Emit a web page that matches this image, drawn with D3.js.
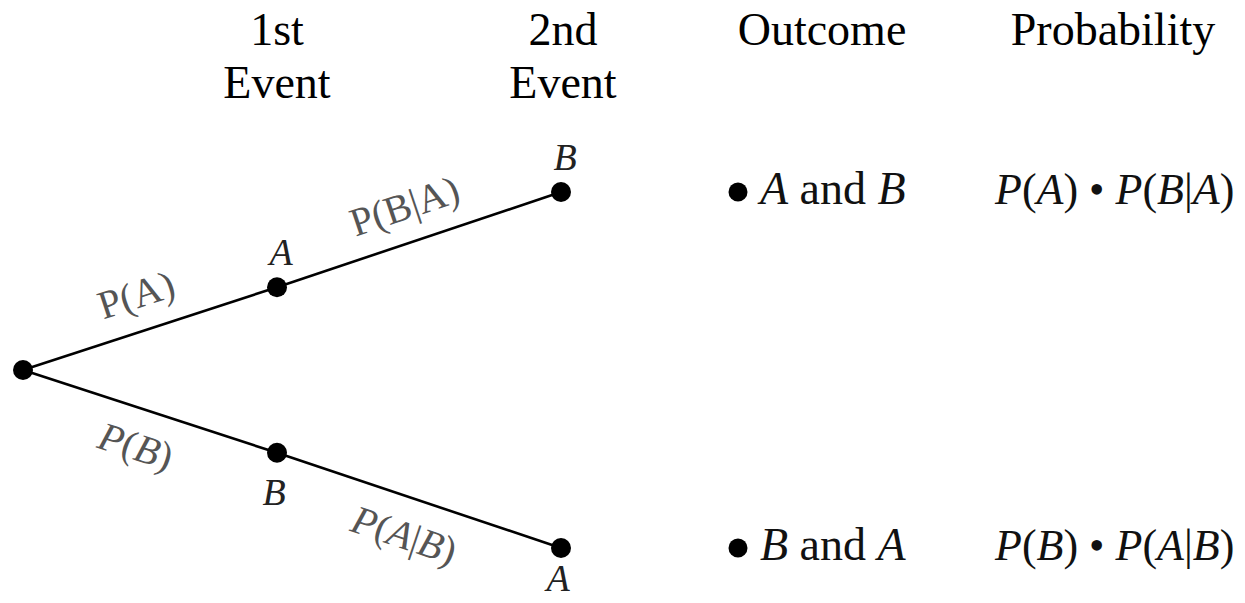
<!DOCTYPE html>
<html><head><meta charset="utf-8">
<script src="https://cdn.jsdelivr.net/npm/d3@7/dist/d3.min.js"></script>
<style>html,body{margin:0;padding:0;background:#fff;}svg{display:block;}</style>
</head><body><svg id="c" width="1245" height="603"></svg>
<script>
// ---- data ----
const columns = ["Start", "1st Event", "2nd Event", "Outcome", "Probability"];
const headings = [["1st", "Event"], ["2nd", "Event"], ["Outcome"], ["Probability"]];
const headingColumns = ["1st Event", "2nd Event", "Outcome", "Probability"];
// nodes: id, column, vertical branch value, label
const nodeIds = ["root", "A1", "B2", "B1", "A2"];
const nodeColumns = ["Start", "1st Event", "2nd Event", "1st Event", "2nd Event"];
const nodeBranch = [0, 0.93, 2, -0.93, -2];
const nodeLabels = ["", "A", "B", "B", "A"];
const edgeFrom = ["root", "A1", "root", "B1"];
const edgeTo = ["A1", "B2", "B1", "A2"];
const edgeLabels = ["P(A)", "P(B|A)", "P(B)", "P(A|B)"];
const outcomeNodes = ["B2", "A2"];
const outcomeTexts = [[["A", true], [" and ", false], ["B", true]], [["B", true], [" and ", false], ["A", true]]];
const probTexts = [
  [["P", true], ["(", false], ["A", true], [") \u2022 ", false], ["P", true], ["(", false], ["B", true], ["|", false], ["A", true], [")", false]],
  [["P", true], ["(", false], ["B", true], [") \u2022 ", false], ["P", true], ["(", false], ["A", true], ["|", false], ["B", true], [")", false]]
];

// ---- scales ----
const x = d3.scaleOrdinal(columns, [23, 277, 561, 738, 995]);
const headX = d3.scaleOrdinal(headingColumns, [277, 563, 822, 1113]);
const y = d3.scaleLinear([-2, 2], [548, 192]);
const svg = d3.select("#c");
const FONT = '"Liberation Serif"';

const nodes = nodeIds.map((id, i) => ({id, col: nodeColumns[i], v: nodeBranch[i], label: nodeLabels[i]}));
const byId = new Map(nodes.map(n => [n.id, n]));
nodes.forEach(n => { n.x = x(n.col); n.y = y(n.v); });
const edges = edgeFrom.map((f, i) => ({s: byId.get(f), t: byId.get(edgeTo[i]), label: edgeLabels[i], up: i < 2}));

function txt(sel) { return sel.append("text").style("font-family", FONT); }

// headings
headings.forEach((lines, i) => {
  const t = txt(svg).attr("text-anchor", "middle").attr("font-size", 46).attr("fill", "#000");
  lines.forEach((l, j) => t.append("tspan").attr("x", headX(headingColumns[i])).attr("y", 45 + j * 53).text(l));
});

// edges
svg.selectAll("line.edge").data(edges).join("line").attr("class", "edge")
  .attr("x1", d => d.s.x).attr("y1", d => d.s.y).attr("x2", d => d.t.x).attr("y2", d => d.t.y)
  .attr("stroke", "#000").attr("stroke-width", 2.6);

// edge labels
edges.forEach(e => {
  const dx = e.t.x - e.s.x, dy = e.t.y - e.s.y, L = Math.hypot(dx, dy);
  const ux = dx / L, uy = dy / L;
  let nx = -uy, ny = ux;
  if (e.up ? ny > 0 : ny < 0) { nx = -nx; ny = -ny; }
  const off = 37;
  const cx = e.s.x + dx * 0.49 + nx * off, cy = e.s.y + dy * 0.49 + ny * off;
  const ang = Math.atan2(dy, dx) * 180 / Math.PI;
  const t = txt(svg).attr("transform", `translate(${cx},${cy}) rotate(${ang})`)
    .attr("text-anchor", "middle").attr("dominant-baseline", "central")
    .attr("font-size", 40).attr("fill", "#555");
  const parts = e.label.match(/[A-Z]|[^A-Z]+/g);
  parts.forEach(p => t.append("tspan").attr("font-style", (!e.up && /[A-Z]/.test(p)) ? "italic" : "normal").text(p));
});

// nodes
svg.selectAll("circle.node").data(nodes).join("circle").attr("class", "node")
  .attr("cx", d => d.x).attr("cy", d => d.y).attr("r", 10).attr("fill", "#000");

// node labels
nodes.filter(n => n.label).forEach(n => {
  const above = n.v > 0;
  txt(svg).attr("x", n.x + (above ? 4 : -3)).attr("y", above ? n.y - 22 : Math.min(n.y + 52, 591))
    .attr("text-anchor", "middle").attr("font-style", "italic")
    .attr("font-size", 38).attr("fill", "#222").text(n.label);
});

// outcomes
outcomeNodes.forEach((id, i) => {
  const n = byId.get(id);
  svg.append("circle").attr("cx", x("Outcome")).attr("cy", n.y).attr("r", 9.5).attr("fill", "#000");
  const t = txt(svg).attr("x", x("Outcome") + 22).attr("y", n.y + 12)
    .attr("font-size", 46).attr("fill", "#111");
  outcomeTexts[i].forEach(p => t.append("tspan").attr("font-style", p[1] ? "italic" : "normal").text(p[0]));
  const pt = txt(svg).attr("x", x("Probability")).attr("y", n.y + 12)
    .attr("font-size", 44).attr("fill", "#111").style("white-space", "pre");
  probTexts[i].forEach(p => pt.append("tspan").attr("font-style", p[1] ? "italic" : "normal").text(p[0]));
});
</script></body></html>
